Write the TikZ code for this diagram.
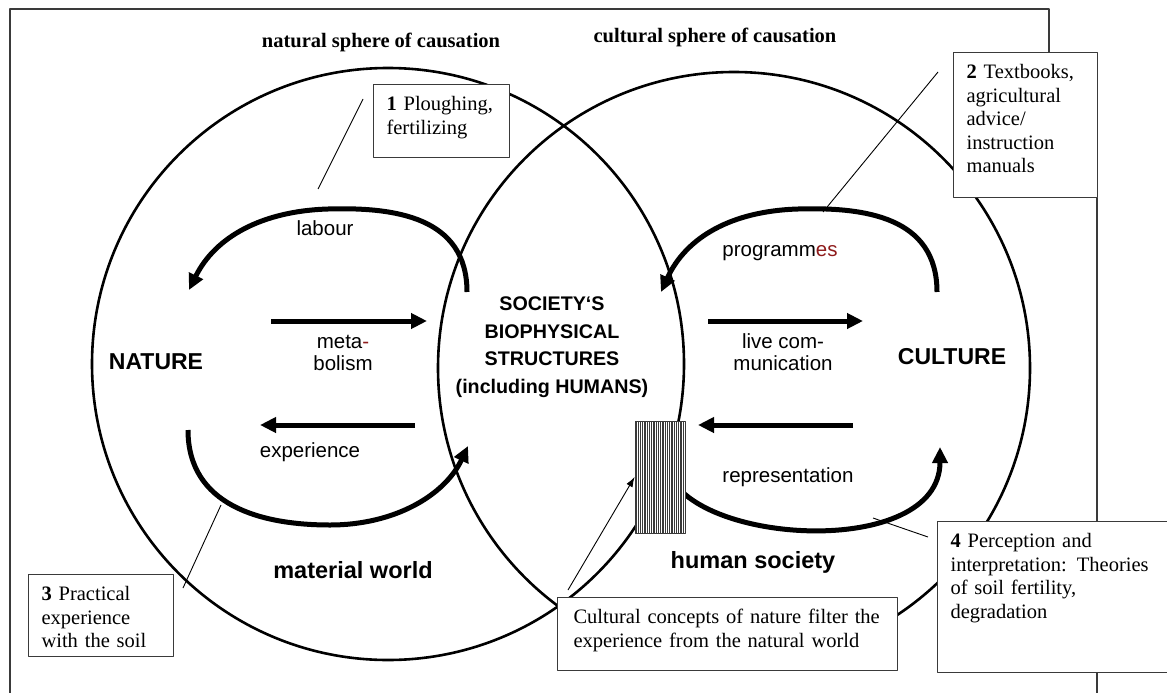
\documentclass[tikz,border=0pt]{standalone}
\usepackage{fontspec}
\setmainfont{Liberation Serif}
\setsansfont{Liberation Sans}
\usetikzlibrary{arrows.meta,positioning,calc}
\definecolor{framegray}{HTML}{3A3A3A}
\definecolor{termred}{HTML}{8E1B1B}

\begin{document}
\begin{tikzpicture}[x=1pt,y=-1pt,line join=round,
note/.style={draw=framegray,line width=1.1pt,fill=white,anchor=north west,align=left,
  font=\fontsize{20.5}{23.5}\selectfont,inner xsep=13pt,inner ysep=11pt,text height=15pt},
flow/.style={line width=5pt,-{Triangle[length=16pt,width=15pt]}},
flowtext/.style={font=\sffamily\fontsize{20.5}{22}\selectfont,align=center},
heading/.style={font=\bfseries\fontsize{20.5}{24}\selectfont},
pole/.style={font=\sffamily\bfseries\fontsize{23}{26}\selectfont},
world/.style={font=\sffamily\bfseries\fontsize{23.5}{26}\selectfont},
sphere/.style={line width=2.6pt},
leader/.style={line width=.9pt}]
\useasboundingbox (0,0) rectangle (1167,693);
% outer frame
\draw[framegray,line width=1.3pt] (10,693) -- (10,9) -- (1049,9) -- (1049,54);
\draw[framegray,line width=1.3pt] (1097,197) -- (1097,521);
\draw[framegray,line width=1.3pt] (1097,672) -- (1097,693);
% the two spheres
\draw[sphere] (388,364) circle[radius=296];
\draw[sphere] (734,368) circle[radius=296];
\node[heading] (natural) at (381,42) {natural sphere of causation};
\node[heading] (cultural) at (715,37) {cultural sphere of causation};
% curved flows
\coordinate (lab-r) at (467,292); \coordinate (lab-t) at (328,209); \coordinate (lab-l) at (189,290);
\coordinate (prg-r) at (937,292); \coordinate (prg-t) at (798,209); \coordinate (prg-l) at (661,292);
\coordinate (exp-l) at (188,430); \coordinate (exp-b) at (330,525); \coordinate (exp-r) at (468,446);
\coordinate (rep-l) at (668,470); \coordinate (rep-r) at (940,447);
\draw[flow] (lab-r) .. controls (467,217) and (395,207) .. (lab-t) .. controls (262,211) and (215,237) .. (lab-l);
\draw[flow] (prg-r) .. controls (937,217) and (865,207) .. (prg-t) .. controls (732,211) and (686,237) .. (prg-l);
\draw[flow] (exp-l) .. controls (188,505) and (260,525) .. (exp-b) .. controls (395,525) and (445,495) .. (exp-r);
\draw[flow] (rep-l) .. controls (690,545) and (940,560) .. (rep-r);
% straight flows
\coordinate (met-a) at (271,321); \coordinate (met-b) at (427,321);
\coordinate (com-a) at (708,321); \coordinate (com-b) at (863,321);
\coordinate (xp-a) at (415,425); \coordinate (xp-b) at (260,425);
\coordinate (rp-a) at (853,425); \coordinate (rp-b) at (698,425);
\draw[flow] (met-a) -- (met-b);
\draw[flow] (com-a) -- (com-b);
\draw[flow] (xp-a) -- (xp-b);
\draw[flow] (rp-a) -- (rp-b);
\node[flowtext] (labour) at (325,228) {labour};
\node[flowtext] (programmes) at (780,253) {programm\textcolor{termred}{es}};
\node[flowtext] (metabolism) at (343,353) {meta\textcolor{termred}{-}\\bolism};
\node[flowtext] (livecom) at (783,352) {live com-\\munication};
\node[flowtext] (experience) at (310,452) {experience};
\node[flowtext] (representation) at (788,477) {representation};
\node[pole] (nature) at (156,362) {NATURE};
\node[pole] (culture) at (952,357) {CULTURE};
\node[font=\sffamily\bfseries\fontsize{19.7}{27.5}\selectfont,align=center] (society) at (552,347) {SOCIETY‘S\\BIOPHYSICAL\\STRUCTURES\\(including HUMANS)};
\node[world] (material) at (353,570) {material world};
\node[world] (humansoc) at (753,562) {human society};
% filter
\node[draw=framegray,line width=.8pt,fill=white,minimum width=50pt,minimum height=112pt,inner sep=0pt,
  path picture={\foreach \s in {1,...,27}
    \draw[line width=.7pt] ([xshift=\s*1.8pt]path picture bounding box.north west) -- ([xshift=\s*1.8pt]path picture bounding box.south west);}] (filter) at (660,477) {};
% leader lines
\coordinate (lead1-a) at (363,99); \coordinate (lead1-b) at (318,189);
\coordinate (lead2-a) at (938,72); \coordinate (lead2-b) at (823,212);
\coordinate (lead3-a) at (183,588); \coordinate (lead3-b) at (221,505);
\coordinate (lead4-a) at (928,537); \coordinate (lead4-b) at (873,518);
\coordinate (filter-foot) at (568,590);
\draw[leader] (lead1-a) -- (lead1-b);
\draw[leader] (lead2-a) -- (lead2-b);
\draw[leader] (lead3-a) -- (lead3-b);
\draw[leader] (lead4-a) -- (lead4-b);
\draw[leader,-{Latex[length=10pt,width=7pt]}] (filter-foot) -- (filter.west);
% text boxes
\node[note,text width=110pt,text depth=36pt] (ploughing) at (373,84) {\textbf{1} Ploughing,\\fertilizing};
\node[note,text width=118pt,text depth=108pt] (textbooks) at (953,52) {\textbf{2} Textbooks,\\agricultural\\advice/\\instruction\\manuals};
\node[note,text width=119pt,text depth=45pt] (practical) at (28,574) {\textbf{3} Practical\\experience\\with the soil};
\node[note,text width=212pt,text depth=114pt] (perception) at (937,521) {\textbf{4} Perception and\\interpretation: Theories\\of soil fertility,\\degradation};
\node[note,inner xsep=16pt,text width=308pt,text depth=36pt] (concepts) at (557,597) {Cultural concepts of nature filter the\\experience from the natural world};
\end{tikzpicture}
\end{document}
